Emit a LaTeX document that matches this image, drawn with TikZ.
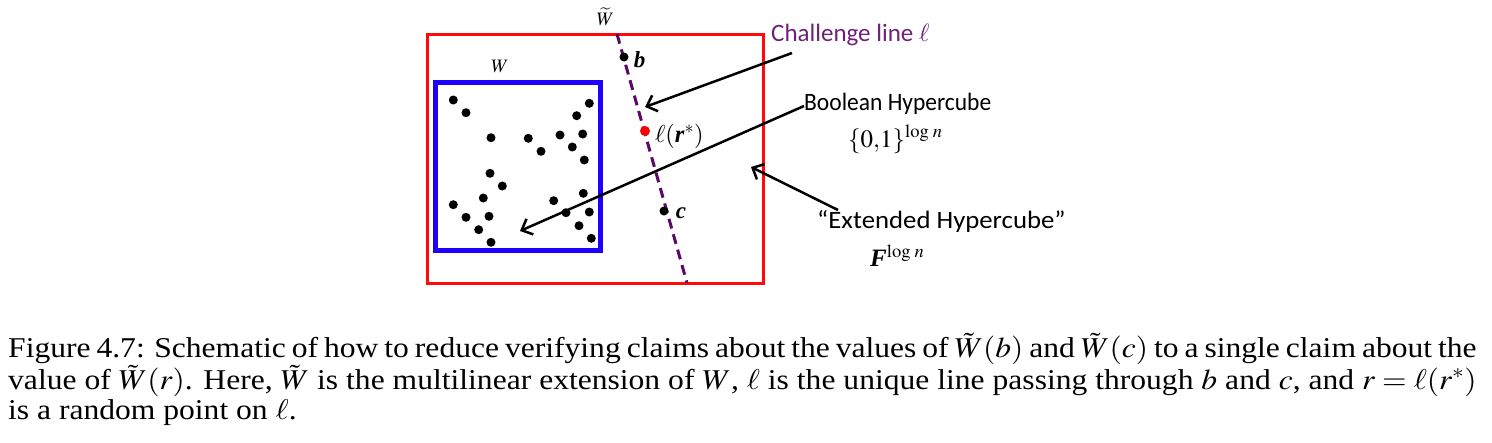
\documentclass[tikz,border=0pt]{standalone}
\usepackage{mathptmx}
\usepackage{graphicx}
\usepackage{fontspec}
\setmainfont{Liberation Serif}
\newfontfamily\carlito{Carlito}
\usetikzlibrary{arrows.meta}
\definecolor{boxred}{RGB}{255,10,10}
\definecolor{boxblue}{RGB}{30,0,255}
\definecolor{lineviolet}{RGB}{90,10,100}
\definecolor{textviolet}{RGB}{112,32,120}
\begin{document}
\begin{tikzpicture}[x=1pt,y=-1pt,
  pt/.style={circle,fill=black,inner sep=0pt,minimum size=9pt},
  rpt/.style={circle,fill=red,inner sep=0pt,minimum size=10pt},
  arr/.style={line width=2.5pt,-{Straight Barb[length=9pt,width=17pt,line width=2.5pt]}},
  lbl/.style={inner sep=0pt,font=\carlito\fontsize{25}{28}\selectfont},
  mlbl/.style={inner sep=0pt,font=\fontsize{25}{28}\selectfont},
  chall/.style={lineviolet,line width=3pt,dash pattern=on 10pt off 6pt}]
\useasboundingbox (0,0) rectangle (1492,442);
% boxes
\draw[boxred,line width=3pt] (427,34) rectangle (763,283);
\draw[boxblue,line width=5pt] (435.5,82.5) rectangle (600.5,250.5);
% points of W
\foreach \x/\y [count=\i] in {453.3/100,466/112.7,491/137.7,528.3/138.3,541/151.3,
  560/135,572.3/147,582.7/134,584.3/160,576.7/115.7,589.3/103.3,490/173.3,
  502.3/186,483.3/198,453.3/204.7,466/217.3,489/216.3,478.7/229.7,491/242.3,
  553.7/200.7,566/212.7,583.3/193.3,589.3/212,579/225.7,591.3/238.3}
  \node[pt] (w\i) at (\x,\y) {};
% challenge line
\coordinate (ltop) at (617,34);
\coordinate (lbot) at (687,283);
\draw[chall] (ltop) -- (lbot);
\node[pt] (b) at (624,57) {};
\node[pt] (c) at (664,211) {};
\node[rpt] (rs) at (645,131) {};
\node[inner sep=0pt,font=\fontsize{23}{25}\selectfont] (blbl) at (639.5,60) {\textbf{\textit{b}}};
\node[inner sep=0pt,font=\fontsize{23}{25}\selectfont] (clbl) at (681,213) {\textbf{\textit{c}}};
\node[inner sep=0pt,anchor=base west,font=\fontsize{24.5}{26}\selectfont] (rlbl) at (655,142) {$\ell(\textbf{\textit{r}}^{*})$};
\node[inner sep=0pt,font=\fontsize{19}{21}\selectfont] (wt) at (605.5,17) {$\widetilde{W}$};
\node[inner sep=0pt,font=\fontsize{19}{21}\selectfont] (wl) at (500,66) {$W$};
% labels on the right
\node[lbl,anchor=base west,text=textviolet] (ch) at (771,41.5) {Challenge line $\ell$};
\node[lbl,anchor=base west] (bh) at (804,110.7) {\scalebox{0.94}[1]{Boolean Hypercube}};
\node[mlbl,anchor=base west] (bset) at (848,147) {$\{0{,}1\}^{\log\, n}$};
\node[lbl,anchor=base west] (eh) at (817,228.3) {\scalebox{1.07}[1]{“Extended Hypercube”}};
\node[mlbl,anchor=base west] (fset) at (870,266.7) {$\textbf{\textit{F}}^{\log\, n}$};
% arrows
\coordinate (a1s) at (792,53);
\coordinate (a1e) at (645,107);
\coordinate (a2s) at (804,106);
\coordinate (a2e) at (520,231);
\coordinate (a3s) at (838,210);
\coordinate (a3e) at (751,167);
\draw[arr] (a1s) -- (a1e);
\draw[arr] (a2s) -- (a2e);
\draw[arr] (a3s) -- (a3e);
% caption
\node[inner sep=0pt,anchor=base west,font=\fontsize{28.7}{30.5}\selectfont] (cap) at (8,357.3)
 {\scalebox{1.1}[1]{\parbox[t]{1335pt}{Figure 4.7: Schematic of how to reduce verifying claims about the values of $\tilde{W}(b)$ and $\tilde{W}(c)$ to a single claim about the\linebreak
 value of $\tilde{W}(r)$. Here, $\tilde{W}$ is the multilinear extension of $W$, $\ell$ is the unique line passing through $b$ and $c$, and $r=\ell(r^{*})$\linebreak
 is a random point on $\ell$.}}};
\end{tikzpicture}
\end{document}
